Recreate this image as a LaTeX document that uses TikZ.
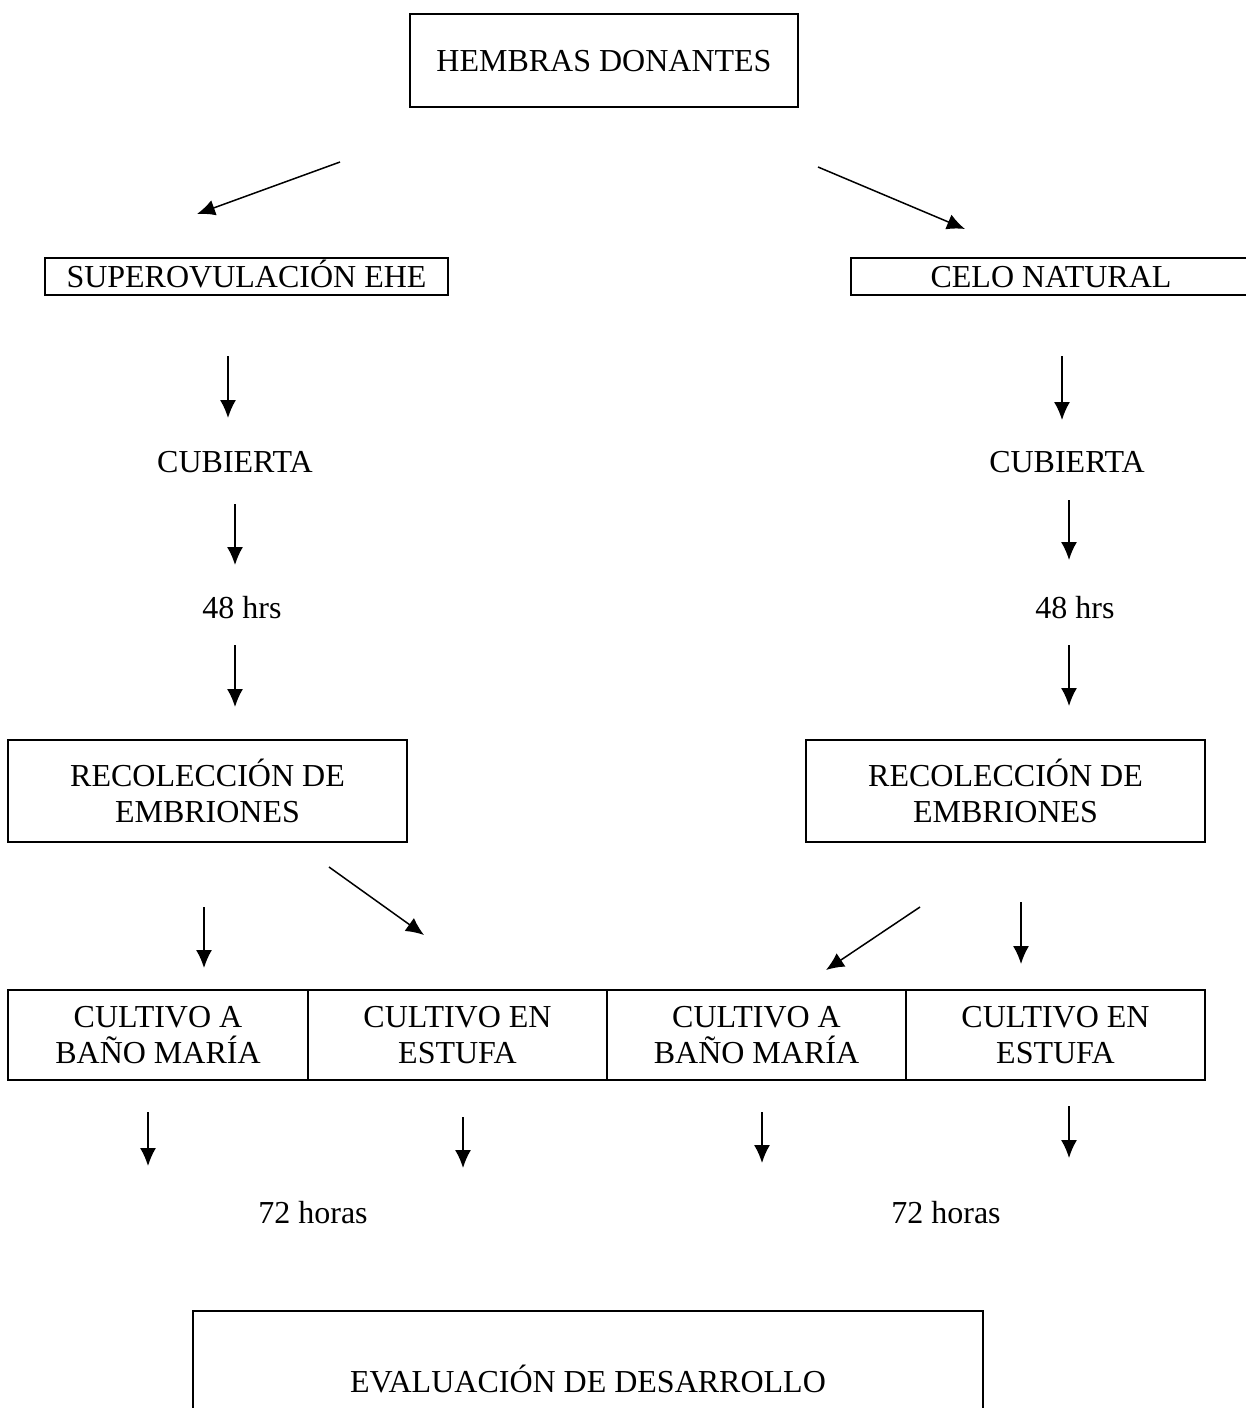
\documentclass[tikz,border=0pt]{standalone}
\usepackage{fontspec}
\setmainfont{Liberation Serif}
\usetikzlibrary{arrows.meta}

\tikzset{
  caja/.style={draw, line width=1pt, inner sep=0pt, align=center},
  linea/.style={text height=11pt, text depth=0pt},
  rotulo/.style={inner sep=0pt, align=center},
  flecha/.style={line width=0.75pt, -{Latex[length=9pt,width=8pt]}}
}

\begin{document}
\begin{tikzpicture}[x=0.5pt,y=-0.5pt,font=\fontsize{16}{18.4}\selectfont]
  \clip (0,0) rectangle (1246,1408);
  \fill[white] (0,0) rectangle (1246,1408);

  % cajas
  \node[caja,linea,minimum width=194pt,minimum height=46.5pt] (hembras) at (604,60.5) {HEMBRAS DONANTES};
  \node[caja,linea,minimum width=201.5pt,minimum height=18.5pt] (superov) at (246.5,276) {SUPEROVULACIÓN EHE};
  \node[caja,linea,minimum width=200pt,minimum height=18.5pt] (celo) at (1051,276) {CELO NATURAL};
  \node[rotulo] (cubizq) at (235,462) {CUBIERTA};
  \node[rotulo] (cubder) at (1067,462) {CUBIERTA};
  \node[rotulo] (hrsizq) at (242,608) {48 hrs};
  \node[rotulo] (hrsder) at (1075,608) {48 hrs};
  \node[caja,minimum width=199.5pt,minimum height=51pt] (recizq) at (207.5,791) {RECOLECCIÓN DE\\EMBRIONES};
  \node[caja,minimum width=199.5pt,minimum height=51pt] (recder) at (1005.5,791) {RECOLECCIÓN DE\\EMBRIONES};
  \node[caja,minimum width=150pt,minimum height=45pt] (banoizq) at (158,1035) {CULTIVO A\\BAÑO MARÍA};
  \node[caja,minimum width=149.5pt,minimum height=45pt] (estizq) at (457.5,1035) {CULTIVO EN\\ESTUFA};
  \node[caja,minimum width=149.5pt,minimum height=45pt] (banoder) at (756.5,1035) {CULTIVO A\\BAÑO MARÍA};
  \node[caja,minimum width=149.5pt,minimum height=45pt] (estder) at (1055.5,1035) {CULTIVO EN\\ESTUFA};
  \node[rotulo] (horasizq) at (313,1213) {72 horas};
  \node[rotulo] (horasder) at (946,1213) {72 horas};
  \node[caja,linea,minimum width=395pt,minimum height=70pt] (evaluacion) at (588,1381) {EVALUACIÓN DE DESARROLLO};

  % flechas
  \coordinate (f1a) at (340,162);  \coordinate (f1b) at (197,214);
  \coordinate (f2a) at (818,167);  \coordinate (f2b) at (965,229);
  \coordinate (f3a) at (228,356);  \coordinate (f3b) at (228,418);
  \coordinate (f4a) at (1062,356); \coordinate (f4b) at (1062,420);
  \coordinate (f5a) at (235,504);  \coordinate (f5b) at (235,565);
  \coordinate (f6a) at (1069,500); \coordinate (f6b) at (1069,560);
  \coordinate (f7a) at (235,645);  \coordinate (f7b) at (235,707);
  \coordinate (f8a) at (1069,645); \coordinate (f8b) at (1069,706);
  \coordinate (f9a) at (204,907);  \coordinate (f9b) at (204,968);
  \coordinate (f10a) at (329,867); \coordinate (f10b) at (424,935);
  \coordinate (f11a) at (920,907); \coordinate (f11b) at (826,970);
  \coordinate (f12a) at (1021,902); \coordinate (f12b) at (1021,964);
  \coordinate (f13a) at (148,1112); \coordinate (f13b) at (148,1166);
  \coordinate (f14a) at (463,1117); \coordinate (f14b) at (463,1168);
  \coordinate (f15a) at (762,1112); \coordinate (f15b) at (762,1163);
  \coordinate (f16a) at (1069,1106); \coordinate (f16b) at (1069,1158);

  \draw[flecha] (f1a) -- (f1b);
  \draw[flecha] (f2a) -- (f2b);
  \draw[flecha] (f3a) -- (f3b);
  \draw[flecha] (f4a) -- (f4b);
  \draw[flecha] (f5a) -- (f5b);
  \draw[flecha] (f6a) -- (f6b);
  \draw[flecha] (f7a) -- (f7b);
  \draw[flecha] (f8a) -- (f8b);
  \draw[flecha] (f9a) -- (f9b);
  \draw[flecha] (f10a) -- (f10b);
  \draw[flecha] (f11a) -- (f11b);
  \draw[flecha] (f12a) -- (f12b);
  \draw[flecha] (f13a) -- (f13b);
  \draw[flecha] (f14a) -- (f14b);
  \draw[flecha] (f15a) -- (f15b);
  \draw[flecha] (f16a) -- (f16b);
\end{tikzpicture}
\end{document}
